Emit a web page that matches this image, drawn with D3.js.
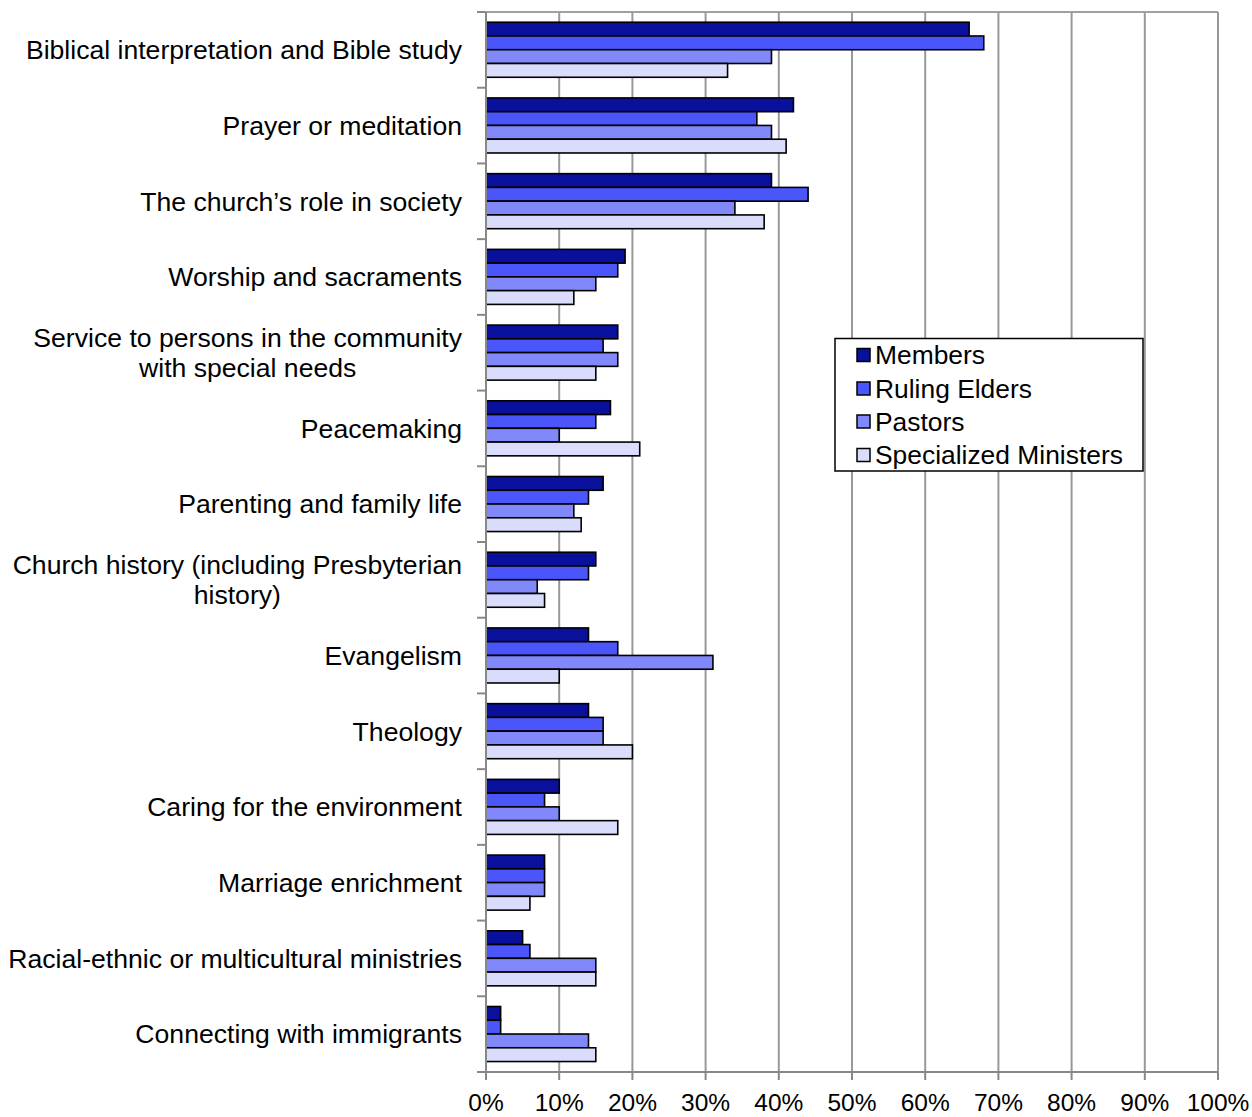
<!DOCTYPE html>
<html>
<head>
<meta charset="utf-8">
<script src="https://cdn.jsdelivr.net/npm/d3@7"></script>
<style>
  html, body { margin: 0; padding: 0; background: #fff; }
  svg { display: block; font-family: "Liberation Sans", Arial, sans-serif; }
</style>
</head>
<body>
<svg id="chart" width="1252" height="1117"></svg>
<script>
const categories = [
  ["Biblical interpretation and Bible study"],
  ["Prayer or meditation"],
  ["The church\u2019s role in society"],
  ["Worship and sacraments"],
  ["Service to persons in the community", "with special needs"],
  ["Peacemaking"],
  ["Parenting and family life"],
  ["Church history (including Presbyterian", "history)"],
  ["Evangelism"],
  ["Theology"],
  ["Caring for the environment"],
  ["Marriage enrichment"],
  ["Racial-ethnic or multicultural ministries"],
  ["Connecting with immigrants"]
];
const seriesNames = ["Members", "Ruling Elders", "Pastors", "Specialized Ministers"];
const members      = [66, 42, 39, 19, 18, 17, 16, 15, 14, 14, 10, 8, 5, 2];
const rulingElders = [68, 37, 44, 18, 16, 15, 14, 14, 18, 16, 8, 8, 6, 2];
const pastors      = [39, 39, 34, 15, 18, 10, 12, 7, 31, 16, 10, 8, 15, 14];
const specialized  = [33, 41, 38, 12, 15, 21, 13, 8, 10, 20, 18, 6, 15, 15];
const tickValues = [0, 10, 20, 30, 40, 50, 60, 70, 80, 90, 100];
const colors = ["#08109C", "#4A55FA", "#8189FA", "#D9DCFB"];

const seriesValues = [members, rulingElders, pastors, specialized];

const svg = d3.select("#chart");
const pLeft = 486, pRight = 1218, pTop = 12, pBottom = 1072;

const x = d3.scaleLinear().domain([0, 100]).range([pLeft, pRight]);
const y = d3.scaleBand().domain(d3.range(categories.length)).range([pTop, pBottom]).padding(0);
const bw = y.bandwidth();
const ySub = d3.scaleBand().domain(d3.range(seriesNames.length)).range([bw * 0.135, bw * 0.862]).padding(0);

// Plot area top border
svg.append("line")
  .attr("x1", pLeft).attr("x2", pRight).attr("y1", pTop).attr("y2", pTop)
  .attr("stroke", "#a0a0a0").attr("stroke-width", 2);

// Vertical gridlines
svg.append("g").selectAll("line").data(tickValues.filter(d => d > 0)).join("line")
  .attr("x1", d => x(d)).attr("x2", d => x(d))
  .attr("y1", pTop).attr("y2", pBottom)
  .attr("stroke", "#999").attr("stroke-width", 2);

// Bars
const groups = svg.append("g").selectAll("g").data(categories).join("g")
  .attr("transform", (d, i) => `translate(0,${y(i)})`);

groups.each(function(c, i) {
  d3.select(this).selectAll("rect").data(seriesValues.map((s, k) => ({k, v: s[i]}))).join("rect")
    .attr("x", x(0))
    .attr("y", d => ySub(d.k))
    .attr("width", d => x(d.v) - x(0))
    .attr("height", ySub.bandwidth())
    .attr("fill", d => colors[d.k])
    .attr("stroke", "#000")
    .attr("stroke-width", 1.6);
});

// Left axis (category)
const yAxisG = svg.append("g");
yAxisG.append("line")
  .attr("x1", pLeft).attr("x2", pLeft).attr("y1", pTop).attr("y2", pBottom)
  .attr("stroke", "#888").attr("stroke-width", 2);
yAxisG.selectAll("line.tick").data(d3.range(categories.length + 1)).join("line")
  .attr("class", "tick")
  .attr("x1", pLeft - 9).attr("x2", pLeft)
  .attr("y1", d => pTop + d * bw).attr("y2", d => pTop + d * bw)
  .attr("stroke", "#888").attr("stroke-width", 2);

// Category labels
const labels = svg.append("g").selectAll("text").data(categories).join("text")
  .attr("text-anchor", "middle")
  .attr("font-size", 26.6)
  .attr("fill", "#000");
labels.each(function(lines, i) {
  const t = d3.select(this);
  const cy = y(i) + bw / 2;
  const lh = 29.5;
  const startY = cy - (lines.length - 1) * lh / 2;
  lines.forEach((ln, j) => {
    t.append("tspan").attr("y", startY + j * lh).attr("dy", "0.35em").text(ln);
  });
});
labels.each(function() {
  const tspans = d3.select(this).selectAll("tspan").nodes();
  const widths = tspans.map(n => n.getComputedTextLength());
  const maxW = d3.max(widths);
  const cx = 462 - maxW / 2;
  tspans.forEach(n => d3.select(n).attr("x", cx));
});

// Bottom axis
const xAxisG = svg.append("g");
xAxisG.append("line")
  .attr("x1", pLeft - 9).attr("x2", pRight).attr("y1", pBottom).attr("y2", pBottom)
  .attr("stroke", "#888").attr("stroke-width", 2);
xAxisG.selectAll("line.tick").data(tickValues).join("line")
  .attr("class", "tick")
  .attr("x1", d => x(d)).attr("x2", d => x(d))
  .attr("y1", pBottom).attr("y2", pBottom + 8)
  .attr("stroke", "#888").attr("stroke-width", 2);
xAxisG.selectAll("text").data(tickValues).join("text")
  .attr("x", d => x(d)).attr("y", 1111)
  .attr("text-anchor", "middle")
  .attr("font-size", 24.5)
  .attr("fill", "#000")
  .text(d => d + "%");

// Legend
const lg = svg.append("g");
lg.append("rect")
  .attr("x", 835).attr("y", 338.5).attr("width", 308).attr("height", 132.5)
  .attr("fill", "#fff").attr("stroke", "#000").attr("stroke-width", 1.5);
const rowY = [355, 388.5, 421.5, 455];
const items = lg.selectAll("g").data(seriesNames).join("g")
  .attr("transform", (d, i) => `translate(0,${rowY[i]})`);
items.append("rect")
  .attr("x", 857).attr("y", -6.5).attr("width", 13).attr("height", 13)
  .attr("fill", (d, i) => colors[i]).attr("stroke", "#000").attr("stroke-width", 1.5);
items.append("text")
  .attr("x", 875).attr("y", 0).attr("dy", "0.35em")
  .attr("font-size", 26.4).attr("fill", "#000")
  .text(d => d);
</script>
</body>
</html>
